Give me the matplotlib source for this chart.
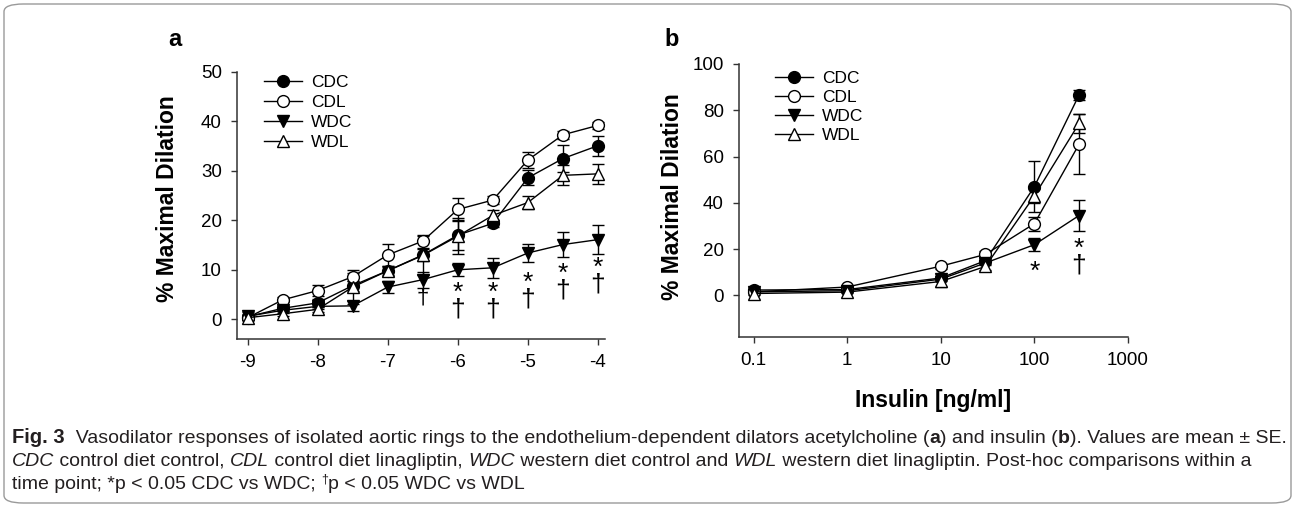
import matplotlib
matplotlib.use("Agg")
import matplotlib.pyplot as plt
from matplotlib.patches import FancyBboxPatch
from matplotlib.ticker import FixedLocator, NullLocator

plt.rcParams['font.family'] = ['Liberation Sans', 'DejaVu Sans']
plt.rcParams['axes.unicode_minus'] = False

# panel a: acetylcholine, log molar
ach_x = [-9, -8.5, -8, -7.5, -7, -6.5, -6, -5.5, -5, -4.5, -4]
ach_cdc = [0.5, 2.2, 3.3, 6.8, 9.8, 13.0, 17.0, 19.4, 28.6, 32.5, 35.1]
ach_cdl = [0.3, 3.9, 5.8, 8.6, 13.0, 15.8, 22.2, 24.1, 32.2, 37.3, 39.2]
ach_wdc = [0.6, 1.8, 2.6, 2.7, 6.5, 8.0, 10.0, 10.4, 13.4, 15.1, 16.1]
ach_wdl = [0.3, 1.1, 2.0, 6.5, 9.8, 12.9, 16.8, 21.0, 23.6, 29.1, 29.4]
ach_cdc_se = [0.5, 0.5, 0.8, 1.0, 1.0, 1.2, 3.0, 0.7, 1.5, 2.7, 2.0]
ach_cdl_se = [0.5, 0.5, 1.2, 0.8, 2.2, 1.3, 2.4, 0.8, 1.7, 0.8, 0.7]
ach_wdc_se = [0.8, 0.5, 0.5, 1.0, 1.2, 1.6, 1.3, 2.0, 1.8, 2.6, 3.0]
ach_wdl_se = [0.5, 0.5, 0.5, 3.5, 0.8, 4.0, 3.6, 1.0, 1.4, 2.0, 2.0]
ach_star_x = [-6, -5.5, -5, -4.5, -4]
ach_star_y = [6.3, 6.5, 8.5, 10.3, 11.3]
ach_dag_x = [-6.5, -6, -5.5, -5, -4.5, -4]
ach_dag_y = [4.2, 2.6, 2.6, 4.4, 6.5, 7.9]

# panel b: insulin ng/ml
ins_x = [0.1, 1, 10, 30, 100, 300]
ins_cdc = [2.3, 2.5, 7.5, 15.0, 47.0, 86.6]
ins_cdl = [1.5, 3.6, 12.6, 17.7, 31.0, 65.3]
ins_wdc = [1.5, 2.0, 7.0, 14.0, 21.9, 34.5]
ins_wdl = [0.8, 1.4, 6.0, 12.5, 43.0, 74.3]
ins_cdc_se = [0.5, 0.5, 1.0, 1.5, 11.0, 2.0]
ins_cdl_se = [0.5, 0.5, 1.0, 1.5, 3.0, 13.0]
ins_wdc_se = [0.5, 0.5, 1.0, 1.0, 2.7, 6.5]
ins_wdl_se = [0.5, 0.5, 2.5, 1.5, 3.0, 4.0]
ins_star_x = [100, 300]
ins_star_y = [13.7, 22.9]
ins_dag_x = [300]
ins_dag_y = [13.7]

groups = ['CDC', 'CDL', 'WDC', 'WDL']
styles = {'CDC': ('o', 'black'), 'CDL': ('o', 'white'),
          'WDC': ('v', 'black'), 'WDL': ('^', 'white')}

W, H = 1295, 507
fig = plt.figure(figsize=(W / 100, H / 100), dpi=100)

def px_axes(l, t, r, b):
    return fig.add_axes([l / W, 1 - b / H, (r - l) / W, (b - t) / H])

def draw_panel(ax, x, series, errs, spacing):
    for g, y, e in zip(groups, series, errs):
        m, fc = styles[g]
        ax.errorbar(x, y, yerr=e, fmt='none', ecolor='black', elinewidth=1,
                    capsize=4, capthick=1, zorder=2)
        ax.plot(x, y, color='black', lw=1, marker=m, ms=8.5 if m == 'o' else 9,
                mfc=fc, mec='black', mew=1, label=g, zorder=3)
    for s in ['top', 'right']:
        ax.spines[s].set_visible(False)
    for s in ['left', 'bottom']:
        ax.spines[s].set_linewidth(1.1)
        ax.spines[s].set_color('#333333')
    ax.tick_params(direction='out', length=4, width=1, labelsize=13.5, pad=7,
                   color='#333333')
    ax.legend(loc='upper left', frameon=False, fontsize=12.5,
              handlelength=2.2, handletextpad=0.5, labelspacing=spacing,
              borderaxespad=0)

def marks(ax, sx, sy, dx, dy):
    # star and dagger at the same x go into one two-line text
    for xx in sorted(set(sx) | set(dx)):
        if xx in sx and xx in dx:
            ys = sy[sx.index(xx)]
            yd = dy[dx.index(xx)]
            ax.annotate('*\n\u2020', (xx, (ys + yd) / 2), xytext=(0, -3),
                        textcoords='offset points', fontsize=19,
                        linespacing=0.62, ha='center', va='center')
        elif xx in sx:
            ax.annotate('*', (xx, sy[sx.index(xx)]), xytext=(0, -6),
                        textcoords='offset points', fontsize=19,
                        ha='center', va='center')
        else:
            ax.annotate('\u2020', (xx, dy[dx.index(xx)]), xytext=(0, 0),
                        textcoords='offset points', fontsize=16,
                        ha='center', va='center')

# panel a
ax1 = px_axes(237, 72, 605, 339)
draw_panel(ax1, ach_x, [ach_cdc, ach_cdl, ach_wdc, ach_wdl],
           [ach_cdc_se, ach_cdl_se, ach_wdc_se, ach_wdl_se], 0.27)
ax1.set_xlim(-9.15, -3.9)
ax1.set_ylim(-4, 50)
ax1.set_yticks([0, 10, 20, 30, 40, 50])
ax1.set_xticks([-9, -8, -7, -6, -5, -4])
ax1.legend_.set_bbox_to_anchor((0.055, 1.015))
ax1.set_ylabel('% Maximal Dilation', fontsize=16.5, fontweight='bold')
ax1.yaxis.set_label_coords(-0.157, 0.524)
marks(ax1, ach_star_x, ach_star_y, ach_dag_x, ach_dag_y)

# panel b
ax2 = px_axes(739, 64, 1128, 337)
draw_panel(ax2, ins_x, [ins_cdc, ins_cdl, ins_wdc, ins_wdl],
           [ins_cdc_se, ins_cdl_se, ins_wdc_se, ins_wdl_se], 0.22)
ax2.set_xscale('log')
ax2.set_xlim(0.07, 1000)
ax2.set_ylim(-18, 100)
ax2.set_yticks([0, 20, 40, 60, 80, 100])
ax2.xaxis.set_major_locator(FixedLocator([0.1, 1, 10, 100, 1000]))
ax2.xaxis.set_minor_locator(NullLocator())
ax2.set_xticklabels(['0.1', '1', '10', '100', '1000'])
ax2.legend_.set_bbox_to_anchor((0.075, 1.0))
ax2.set_ylabel('% Maximal Dilation', fontsize=16.5, fontweight='bold')
ax2.yaxis.set_label_coords(-0.141, 0.513)
ax2.set_xlabel('Insulin [ng/ml]', fontsize=16.5, fontweight='bold', labelpad=14)
marks(ax2, ins_star_x, ins_star_y, ins_dag_x, ins_dag_y)

fig.text(175 / W, 1 - 40 / H, 'a', fontsize=17, fontweight='bold', ha='center', va='center')
fig.text(672 / W, 1 - 40 / H, 'b', fontsize=17, fontweight='bold', ha='center', va='center')

# rounded frame around the figure
fig.patches.append(FancyBboxPatch((4 / W, 4 / H), 1 - 8 / W, 1 - 8 / H,
                                  boxstyle='round,pad=0,rounding_size=0.015',
                                  transform=fig.transFigure, fill=False,
                                  edgecolor='#9a9a9a', lw=1))

# caption, written piece by piece
cap_font = ['Liberation Sans Narrow', 'Liberation Sans', 'DejaVu Sans']
cap_size = 14
renderer = fig.canvas.get_renderer()

def put_line(x, y, parts):
    for txt, kw in parts:
        t = fig.text(x / W, 1 - y / H, txt, fontsize=kw.get('size', cap_size),
                     family=cap_font, fontweight=kw.get('weight', 'normal'),
                     fontstyle=kw.get('style', 'normal'), color='#231f20',
                     va='baseline')
        if 'rise' in kw:
            t.set_y(1 - (y + kw['rise']) / H)
        x += t.get_window_extent(renderer=renderer).width

B = {'weight': 'bold'}
I = {'style': 'italic'}
N = {}
put_line(12, 443, [('Fig. 3', dict(B, size=14.5)),
                   ('  Vasodilator responses of isolated aortic rings to the endothelium-dependent dilators acetylcholine (', N),
                   ('a', B), (') and insulin (', N), ('b', B),
                   ('). Values are mean \u00b1 SE.', N)])
put_line(12, 466, [('CDC', I), (' control diet control, ', N), ('CDL', I),
                   (' control diet linagliptin, ', N), ('WDC', I),
                   (' western diet control and ', N), ('WDL', I),
                   (' western diet linagliptin. Post-hoc comparisons within a', N)])
put_line(12, 489, [('time point; *p < 0.05 CDC vs WDC; ', N),
                   ('\u2020', {'size': 9, 'rise': -6}),
                   ('p < 0.05 WDC vs WDL', N)])

fig.savefig('out.png', dpi=100)
